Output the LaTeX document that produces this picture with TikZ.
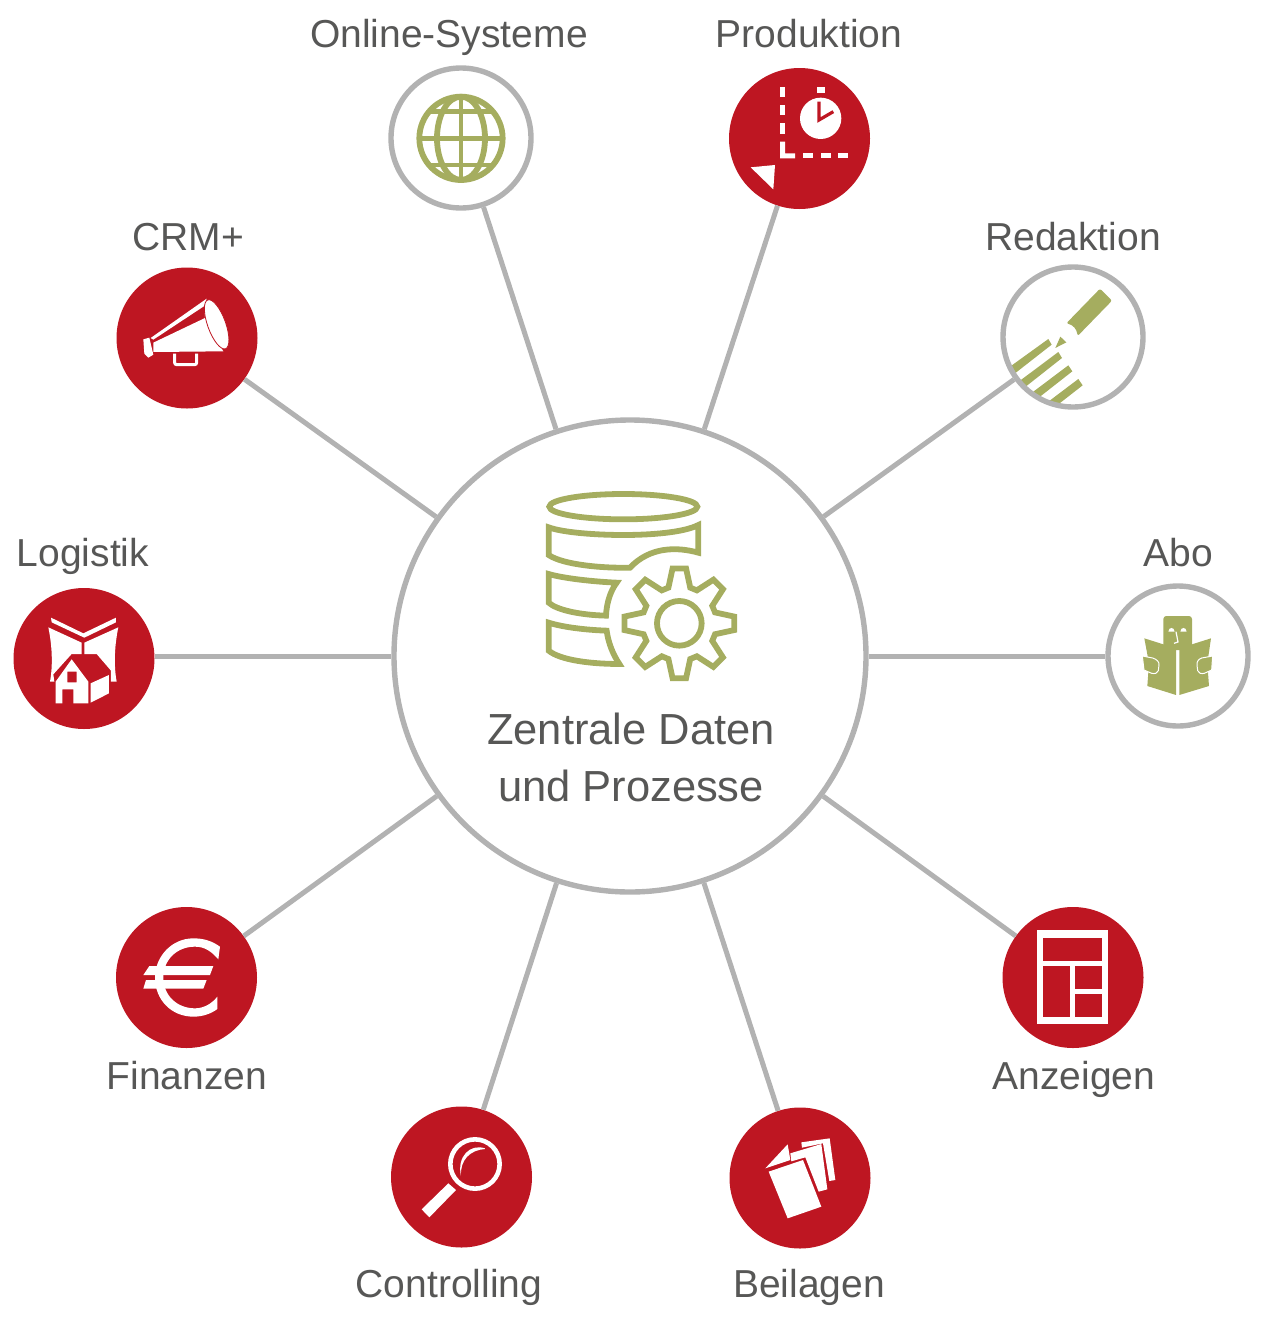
\documentclass[tikz,border=0pt]{standalone}
\usepackage{fontspec}
\setmainfont{Liberation Sans}
\definecolor{hubred}{HTML}{BE1622}
\definecolor{iconolive}{HTML}{A5AD5F}
\definecolor{spokegray}{HTML}{B2B2B2}
\definecolor{labelgray}{HTML}{575756}
\begin{document}
\begin{tikzpicture}[x=1pt, y=-1pt,
	ringnode/.style={circle, draw=spokegray, line width=5.4pt, inner sep=0pt, minimum size=140pt},
	rednode/.style={circle, fill=hubred, inner sep=0pt, minimum size=141pt},
	spoke/.style={draw=spokegray, line width=5pt},
	lbl/.style={anchor=base, text=labelgray, font=\fontsize{39}{46}\selectfont},
	iconat/.style={shift={#1}, scale=0.3333},
	oliveline/.style={draw=iconolive, line width=5.8pt}]
	\useasboundingbox (0,0) rectangle (1263,1320);

	% 1. Icons under the rings
	\begin{scope}[iconat={(520,470)}]
		\draw[oliveline] (310,110) ellipse [x radius=222, y radius=38];
		\draw[oliveline] (86,172) .. controls (130,188) and (230,195) .. (310,195) .. controls (390,195) and (490,188) .. (535,165) -- (535,248) .. controls (470,230) and (390,230) .. (330,293) .. controls (250,295) and (130,285) .. (86,255) -- cycle;
		\draw[oliveline] (86,312) .. controls (130,325) and (220,335) .. (290,338) .. controls (270,365) and (260,400) .. (258,437) .. controls (180,435) and (110,420) .. (86,398) -- cycle;
		\draw[oliveline] (86,458) .. controls (130,472) and (200,480) .. (260,482) .. controls (265,520) and (280,555) .. (298,582) .. controls (210,582) and (120,570) .. (86,542) -- cycle;
		\begin{scope}[shift={(478,460)}]
			\draw[oliveline] (-17:112) \foreach \a in {0,45,...,315} { -- (\a-17:112) -- (\a-7:166) -- (\a+7:166) -- (\a+17:112)} -- cycle;
			\draw[oliveline] (0,0) circle [radius=67];
		\end{scope}
	\end{scope}

	\begin{scope}[iconat={(385,60)}]
		\draw[oliveline] (228,235) circle [radius=125];
		\draw[oliveline] (228,235) ellipse [x radius=72, y radius=125];
		\draw[oliveline, line width=4.6pt] (228,110) -- (228,360);
		\draw[oliveline, line width=4.6pt] (103,235) -- (353,235);
		\draw[oliveline, line width=4.6pt] (132,155) -- (324,155);
		\draw[oliveline, line width=4.6pt] (132,315) -- (324,315);
	\end{scope}

	\begin{scope}[iconat={(995,260)}, fill=iconolive]
		\fill[rounded corners=2pt] (315,86) -- (351,122) -- (248,228) .. controls (245,208) and (235,195) .. (214,190) -- cycle;
		\fill (181,264) -- (196,230) -- (214,247) -- cycle;
		\fill (45,320) -- (160,237) -- (170,254) -- (60,340) -- cycle;
		\fill (75,362) -- (190,276) -- (201,294) -- (92,380) -- cycle;
		\fill (115,395) -- (220,316) -- (232,334) -- (135,410) -- cycle;
		\fill (160,425) -- (250,357) -- (263,376) -- (190,433) -- cycle;
	\end{scope}

	\begin{scope}[iconat={(1100,580)}, fill=iconolive]
		\fill[rounded corners=3pt] (190,210) -- (190,108) -- (276,108) -- (276,210) -- cycle;
		\fill[white] (205,155) .. controls (207,140) and (222,140) .. (224,155) -- cycle;
		\fill[white] (241,155) .. controls (243,140) and (258,140) .. (260,155) -- cycle;
		\draw[white, line width=1.2pt] (228,155) -- (234,186) -- (222,190);
		\fill (133,175) -- (228,205) -- (228,345) -- (142,318) -- (147,250) -- cycle;
		\fill (333,175) -- (238,205) -- (238,345) -- (327,318) -- (322,250) -- cycle;
		\filldraw[draw=white, line width=1pt] (127,228) -- (158,234) .. controls (170,238) and (178,245) .. (177,255) -- (175,272) .. controls (172,280) and (165,282) .. (155,280) -- (132,270) -- cycle;
		\filldraw[draw=white, line width=1pt] (338,228) -- (305,234) .. controls (295,238) and (290,245) .. (291,255) -- (293,272) .. controls (296,280) and (303,282) .. (313,280) -- (335,270) -- cycle;
	\end{scope}

	% 2. Center and outer circles
	\node[circle, draw=spokegray, line width=5.4pt, inner sep=0pt, minimum size=472pt] (hub) at (630,656) {};
	\node[ringnode] (online) at (461,138) {};
	\node[rednode] (produktion) at (799.5,138.5) {};
	\node[ringnode] (redaktion) at (1073,337) {};
	\node[ringnode] (abo) at (1178,656) {};
	\node[rednode] (anzeigen) at (1073,977.5) {};
	\node[rednode] (beilagen) at (800,1178) {};
	\node[rednode] (controlling) at (461.5,1177) {};
	\node[rednode] (finanzen) at (186.5,977.5) {};
	\node[rednode] (logistik) at (84,658.5) {};
	\node[rednode] (crm) at (187,338) {};

	% 3. Spokes
	\draw[spoke] (hub) -- (online);
	\draw[spoke] (hub) -- (produktion);
	\draw[spoke] (hub) -- (redaktion);
	\draw[spoke] (hub) -- (abo);
	\draw[spoke] (hub) -- (anzeigen);
	\draw[spoke] (hub) -- (beilagen);
	\draw[spoke] (hub) -- (controlling);
	\draw[spoke] (hub) -- (finanzen);
	\draw[spoke] (hub.west) -- (hub.west -| logistik.east);
	\draw[spoke] (hub) -- (crm);

	% 4. White icons on the red circles
	\begin{scope}[iconat={(720,60)}, fill=white]
		\foreach \y in {80,135,190} \fill (180,\y) rectangle (195,\y+31);
		\fill (180,245) -- (195,245) -- (195,280) -- (225,280) -- (225,295) -- (180,295) -- cycle;
		\foreach \x in {248,302,355} \fill (\x,280) rectangle (\x+30,295);
		\fill (290,82) rectangle (315,98);
		\fill (302,175) circle [radius=62];
		\draw[hubred, line width=3.2pt] (297,125) -- (297,180) -- (340,155);
		\fill (92,322) -- (165,315) -- (160,388) -- cycle;
	\end{scope}

	\begin{scope}[iconat={(995,900)}]
		\fill[white] (127,90) rectangle (338,373);
		\fill[hubred] (144,113) rectangle (322,183);
		\fill[hubred] (144,197) rectangle (226,350);
		\fill[hubred] (240,197) rectangle (322,267);
		\fill[hubred] (240,281) rectangle (322,350);
	\end{scope}

	\begin{scope}[iconat={(722,1100)}, fill=white]
		\fill (140,215) -- (243,180) -- (298,320) -- (197,355) -- cycle;
		\fill (205,160) -- (298,132) -- (316,268) -- (290,275) -- (250,172) -- (208,184) -- cycle;
		\fill (238,127) -- (323,115) -- (340,240) -- (322,243) -- (303,130) -- (240,143) -- cycle;
		\fill (130,205) -- (197,133) -- (205,180) -- cycle;
	\end{scope}

	\begin{scope}[iconat={(385,1100)}, fill=white]
		\draw[white, line width=4.6pt] (270,192) circle [radius=74];
		\fill (190,250) -- (213,270) -- (133,352) -- (110,328) -- cycle;
		\fill (300,145) .. controls (255,130) and (215,170) .. (228,228) .. controls (225,180) and (255,150) .. (300,147) -- cycle;
	\end{scope}

	\begin{scope}[iconat={(110,900)}, fill=white]
		\fill (330,140) .. controls (305,122) and (280,115) .. (250,115) .. controls (185,115) and (135,170) .. (135,233) .. controls (135,300) and (185,350) .. (250,350) .. controls (280,350) and (305,340) .. (322,327) -- (322,290) .. controls (305,312) and (280,325) .. (255,325) .. controls (200,325) and (160,285) .. (160,233) .. controls (160,180) and (200,140) .. (255,140) .. controls (285,140) and (305,155) .. (325,178) -- cycle;
		\fill (118,198) -- (310,198) -- (300,225) -- (100,225) -- cycle;
		\fill (108,240) -- (290,240) -- (280,266) -- (100,266) -- cycle;
	\end{scope}

	\begin{scope}[iconat={(5,580)}, fill=white]
		\fill (138,113) -- (235,160) -- (333,113) -- (333,127) -- (238,173) -- (140,127) -- cycle;
		\fill (130,142) -- (230,188) -- (230,222) -- (200,222) -- (145,283) -- (148,305) -- (135,305) .. controls (145,250) and (140,190) .. (130,142);
		\fill (340,142) -- (238,188) -- (238,222) -- (275,222) -- (318,272) -- (318,305) -- (335,305) .. controls (325,250) and (330,190) .. (340,142);
		\fill[even odd rule] (152,305) -- (200,238) -- (250,305) -- (250,370) -- (205,370) -- (205,328) -- (172,328) -- (172,370) -- (152,370) -- cycle (187,275) rectangle (215,307);
		\fill (257,310) -- (312,285) -- (312,340) -- (257,368) -- cycle;
	\end{scope}

	\begin{scope}[iconat={(110,262)}, fill=white]
		\fill (122,228) -- (290,110) -- (283,132) -- (130,233) -- cycle;
		\fill (130,242) -- (285,168) -- (340,268) -- (130,270) -- cycle;
		\fill (285,135) -- (285,170) -- (300,200) -- cycle;
		\fill[draw=hubred, line width=0.8pt, rotate around={20:(320,187)}] (320,187) ellipse [x radius=27, y radius=78];
		\fill (100,232) -- (118,227) -- (130,278) -- (115,287) -- (103,275) -- cycle;
		\draw[white, line width=3pt, rounded corners=2pt] (194,275) -- (194,308) -- (260,308) -- (260,275);
	\end{scope}

	% 5. Labels
	\node[lbl] (lblonline) at (449,47) {Online-Systeme};
	\node[lbl] (lblproduktion) at (809,47) {Produktion};
	\node[lbl] (lblredaktion) at (1073,250) {Redaktion};
	\node[lbl] (lblabo) at (1178,566) {Abo};
	\node[lbl] (lblanzeigen) at (1074,1089) {Anzeigen};
	\node[lbl] (lblbeilagen) at (809,1297) {Beilagen};
	\node[lbl] (lblcontrolling) at (449,1297) {Controlling};
	\node[lbl] (lblfinanzen) at (187,1089) {Finanzen};
	\node[lbl] (lbllogistik) at (83,566) {Logistik};
	\node[lbl] (lblcrm) at (188,250) {CRM+};
	\node[lbl, font=\fontsize{43.5}{57}\selectfont] (lblzentrale) at (631,744) {Zentrale Daten};
	\node[lbl, font=\fontsize{43.5}{57}\selectfont] (lblprozesse) at (631,801) {und Prozesse};
\end{tikzpicture}
\end{document}
